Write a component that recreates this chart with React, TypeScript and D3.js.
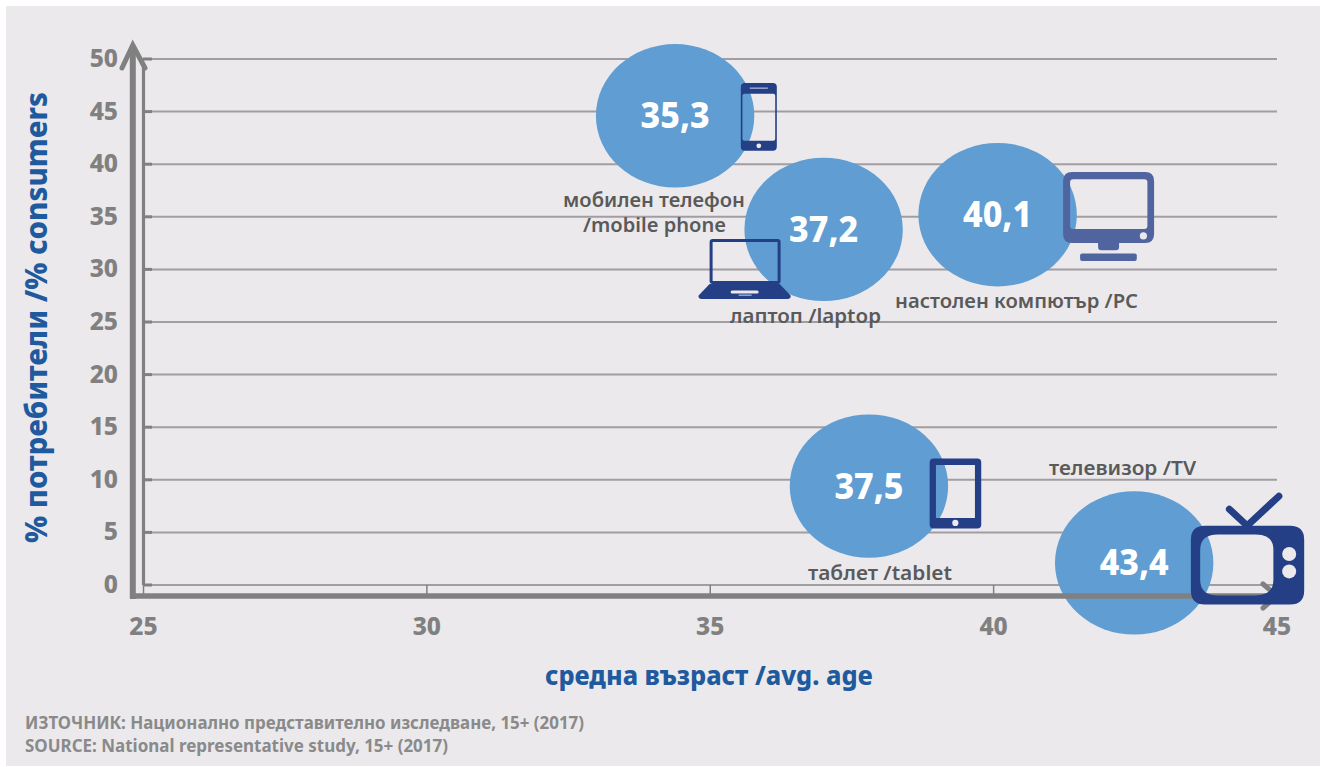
import React from "react";
import * as d3 from "d3";

const yTicks = [0, 5, 10, 15, 20, 25, 30, 35, 40, 45, 50];
const xTicks = [25, 30, 35, 40, 45];
const devices = ["phone", "laptop", "pc", "tablet", "tv"];
const bubbleAge = [34.38, 37.0, 40.07, 37.8, 42.48];
const bubbleShare = [44.6, 33.8, 35.2, 9.4, 2.1];
const valueLabels = ["35,3", "37,2", "40,1", "37,5", "43,4"];

const BG = "#ebe9ec";
const BUBBLE = "#5f9dd2";
const AXIS = "#808080";
const GRID = "#a09ea0";
const NAVY = "#243f85";
const BLUE = "#1f5a9e";
const LABEL = "#5a5a5a";
const FONT = "'Noto Sans', 'Open Sans', sans-serif";

const x = d3.scaleLinear().domain([25, 45]).range([143.5, 1277]);
const y = d3.scaleLinear().domain([0, 50]).range([585, 59]);

function T({ x, y, w, size, fill, weight = 600, anchor = "start", children, transform }: any) {
  return (
    <text
      x={x}
      y={y}
      fontFamily={FONT}
      fontSize={size}
      fontWeight={weight}
      fill={fill}
      textAnchor={anchor}
      textLength={w}
      lengthAdjust={w ? "spacingAndGlyphs" : undefined}
      transform={transform}
    >
      {children}
    </text>
  );
}

function PhoneIcon() {
  return (
    <g>
      <path
        fill={NAVY}
        fillRule="evenodd"
        d="M4 0H32Q36 0 36 4V63.7Q36 67.7 32 67.7H4Q0 67.7 0 63.7V4Q0 0 4 0ZM3.5 10.7Q1.6 10.7 1.6 12.7V55.7Q1.6 57.7 3.5 57.7H32.5Q34.4 57.7 34.4 55.7V12.7Q34.4 10.7 32.5 10.7Z"
      />
      <rect x={9} y={4.3} width={18} height={1.6} fill="#8fa0c8" />
      <circle cx={18} cy={62.7} r={2.4} fill={BG} />
    </g>
  );
}

function LaptopIcon() {
  return (
    <g>
      <rect x={12.5} y={1.5} width={68} height={42} rx={1.5} fill="none" stroke={NAVY} strokeWidth={3} />
      <path fill={NAVY} d="M11 45H81L92 56.5Q92.500 60 89 60H3Q-0.500 60 0 56.500Z" />
      <rect x={32} y={51.5} width={28} height={3} rx={1.5} fill={BG} />
      <rect x={40} y={55.5} width={13} height={1.6} fill="#8fa0c8" />
    </g>
  );
}

function PcIcon() {
  const c = "#50659f";
  return (
    <g>
      <path
        fill={c}
        fillRule="evenodd"
        d="M9 0H82Q91 0 91 9V62Q91 71 82 71H9Q0 71 0 62V9Q0 0 9 0ZM10 7.300Q7 7.300 7 10.300V54Q7 57 10 57H81.300Q84.300 57 84.300 54V10.300Q84.300 7.300 81.300 7.300Z"
      />
      <circle cx={80.3} cy={64} r={3.6} fill={BG} />
      <path fill={c} d="M35 71H56V75Q56 78.300 52.700 78.300H38.300Q35 78.300 35 75Z" />
      <rect x={17} y={81.6} width={56.700} height={7.400} rx={2} fill={c} />
    </g>
  );
}

function TabletIcon() {
  return (
    <g>
      <path
        fill={NAVY}
        fillRule="evenodd"
        d="M4 0H47.600Q51.600 0 51.600 4V66Q51.600 70 47.600 70H4Q0 70 0 66V4Q0 0 4 0ZM6.300 6.300V59.300H45.300V6.300Z"
      />
      <circle cx={25.700} cy={64.300} r={3.100} fill={BG} />
    </g>
  );
}

function TvIcon() {
  return (
    <g>
      <path
        d="M38.500 -16.500L56.300 0L88 -29.500"
        fill="none"
        stroke={NAVY}
        strokeWidth={7}
        strokeLinecap="round"
        strokeLinejoin="round"
      />
      <path
        fill={NAVY}
        fillRule="evenodd"
        d="M14 0H99.300Q113.300 0 113.300 14V64.700Q113.300 78.700 99.300 78.700H14Q0 78.700 0 64.700V14Q0 0 14 0ZM27 8.700Q9.300 8.700 9.300 24V54Q9.300 69.700 27 69.700H65Q82.500 69.700 82.500 54V24Q82.500 8.700 65 8.700Z"
      />
      <circle cx={98.300} cy={28.300} r={7} fill={BG} />
      <circle cx={98.300} cy={45.700} r={7} fill={BG} />
    </g>
  );
}

const icons: Record<string, { C: () => React.JSX.Element; dx: number; dy: number }> = {
  phone: { C: PhoneIcon, dx: 65.7, dy: -32.7 },
  laptop: { C: LaptopIcon, dx: -125, dy: 9.5 },
  pc: { C: PcIcon, dx: 65.5, dy: -42.8 },
  tablet: { C: TabletIcon, dx: 60.7, dy: -27.5 },
  tv: { C: TvIcon, dx: 56.7, dy: -37.2 },
};

export default function App() {
  return (
    <svg
      width={1320}
      height={767}
      viewBox="0 0 1320 767"
      style={{ position: "absolute", left: 0, top: 0, display: "block" }}
    >
      <rect width={1320} height={767} fill="#ffffff" />
      <rect x={6} y={6} width={1314} height={760} fill={BG} />

      {/* grid + ticks */}
      {yTicks.map((t) => (
        <g key={t}>
          <line x1={150} x2={x(45)} y1={y(t)} y2={y(t)} stroke={GRID} strokeWidth={2} />
          <line x1={143} x2={152} y1={y(t)} y2={y(t)} stroke={AXIS} strokeWidth={3} />
          <T x={118} y={y(t) + 8} size={24.5} fill={AXIS} weight={800} anchor="end">
            {t}
          </T>
        </g>
      ))}
      {xTicks.slice(0, 4).map((t) => (
        <line key={t} x1={x(t)} x2={x(t)} y1={y(0)} y2={596} stroke={AXIS} strokeWidth={1.5} />
      ))}
      {xTicks.map((t) => (
        <T key={t} x={x(t)} y={635} size={24.5} fill={AXIS} weight={800} anchor="middle">
          {t}
        </T>
      ))}

      {/* inner thin y axis */}
      <line x1={x(25)} x2={x(25)} y1={66} y2={y(0)} stroke={AXIS} strokeWidth={3.2} />
      <line x1={132.8} x2={132.8} y1={48} y2={599} stroke={AXIS} strokeWidth={6} />
      <path
        d="M122 68L132.800 45L145 68"
        fill="none"
        stroke={AXIS}
        strokeWidth={5}
        strokeLinecap="round"
        strokeLinejoin="miter"
      />

      {/* bubbles */}
      {devices.map((d, i) => (
        <ellipse key={d} cx={x(bubbleAge[i])} cy={y(bubbleShare[i])} rx={79.2} ry={71.7} fill={BUBBLE} />
      ))}

      {/* thick x axis sits above the bubbles */}
      <line x1={130} x2={1270} y1={596} y2={596} stroke={AXIS} strokeWidth={5.5} />
      <path
        d="M1263 584L1277 596L1263 608"
        fill="none"
        stroke={AXIS}
        strokeWidth={5}
        strokeLinecap="round"
        strokeLinejoin="miter"
      />

      {/* icons */}
      {devices.map((d, i) => {
        const { C, dx, dy } = icons[d];
        return (
          <g key={d} transform={`translate(${x(bubbleAge[i]) + dx},${y(bubbleShare[i]) + dy})`}>
            <C />
          </g>
        );
      })}

      {/* bubble values */}
      {devices.map((d, i) => (
        <T
          key={d}
          x={x(bubbleAge[i])}
          y={y(bubbleShare[i]) + 12.5}
          size={36}
          fill="#ffffff"
          weight={800}
          anchor="middle"
          w={69}
        >
          {valueLabels[i]}
        </T>
      ))}

      {/* device labels */}
      <T x={563} y={206.7} w={182} size={20} fill={LABEL}>мобилен телефон</T>
      <T x={583} y={231.7} w={143} size={20} fill={LABEL}>/mobile phone</T>
      <T x={730} y={323.3} w={151} size={20} fill={LABEL}>лаптоп /laptop</T>
      <T x={895} y={308.3} w={243} size={20} fill={LABEL}>настолен компютър /PC</T>
      <T x={808} y={580} w={144} size={20} fill={LABEL}>таблет /tablet</T>
      <T x={1049} y={475} w={147} size={20} fill={LABEL}>телевизор /TV</T>

      {/* axis titles */}
      <T x={545} y={685} w={328} size={27} fill={BLUE} weight={800}>средна възраст /avg. age</T>
      <T
        x={0}
        y={0}
        w={451}
        size={30}
        fill={BLUE}
        weight={800}
        transform="translate(46.7,543) rotate(-90)"
      >
        % потребители /% consumers
      </T>

      {/* source */}
      <T x={25} y={729.3} w={559} size={17} fill="#8a8a8a" weight={700}>ИЗТОЧНИК: Национално представително изследване, 15+ (2017)</T>
      <T x={25} y={751.7} w={423} size={17} fill="#8a8a8a" weight={700}>SOURCE: National representative study, 15+ (2017)</T>
    </svg>
  );
}
